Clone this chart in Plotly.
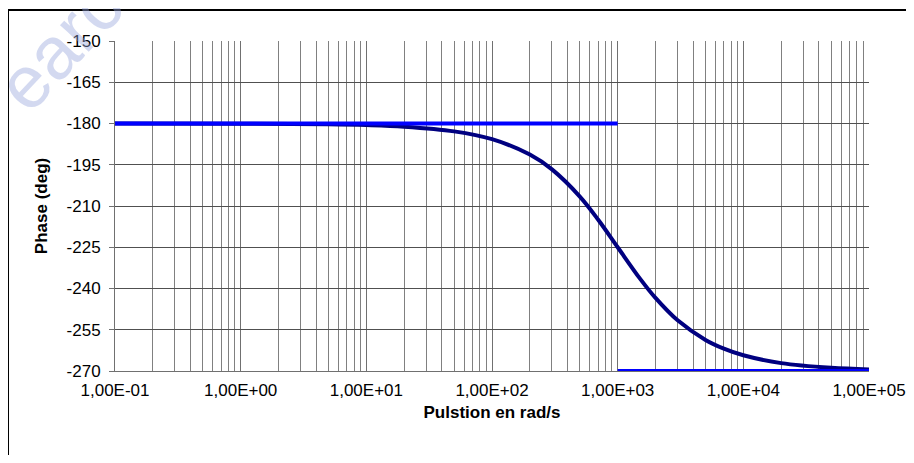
import plotly.graph_objects as go

# Data
pulsation = [0.1, 1, 5, 10, 20, 50, 100, 200, 300, 500, 700, 1000, 1500, 2000,
             3000, 5000, 7000, 10000, 20000, 50000, 100000]
phase = [-180.0, -180.06, -180.29, -180.57, -181.15, -182.86, -185.71, -191.31,
         -196.70, -206.57, -214.99, -225.0, -236.31, -243.43, -251.57, -258.69,
         -261.87, -264.29, -267.14, -268.85, -269.43]

asym_low_x = [0.1, 1000]
asym_low_y = [-180, -180]
asym_high_x = [1000, 100000]
asym_high_y = [-270, -270]

x_tickvals = [0.1, 1, 10, 100, 1000, 10000, 100000]
x_ticktext = ["1,00E-01", "1,00E+00", "1,00E+01", "1,00E+02",
              "1,00E+03", "1,00E+04", "1,00E+05"]
y_tickvals = [-150, -165, -180, -195, -210, -225, -240, -255, -270]
y_ticktext = ["-150", "-165", "-180", "-195", "-210", "-225", "-240", "-255", "-270"]

FONT = "Liberation Sans, Arial, sans-serif"

fig = go.Figure()
fig.add_trace(go.Scatter(x=pulsation, y=phase, mode="lines",
                         line=dict(color="#000080", width=4, shape="spline"),
                         showlegend=False))
fig.add_trace(go.Scatter(x=asym_low_x, y=asym_low_y, mode="lines",
                         line=dict(color="#0000FF", width=4), showlegend=False))
fig.add_trace(go.Scatter(x=asym_high_x, y=asym_high_y, mode="lines",
                         line=dict(color="#0000FF", width=4), showlegend=False))

fig.update_xaxes(type="log", range=[-1, 5], tickvals=x_tickvals, ticktext=x_ticktext,
                 automargin=False,
                 showgrid=True, gridcolor="#707070", gridwidth=1,
                 minor=dict(dtick="D1", showgrid=True, gridcolor="#808080", gridwidth=1),
                 zeroline=False, showline=True, linecolor="#707070", linewidth=1,
                 ticks="", ticklabelstandoff=4,
                 tickfont=dict(family=FONT, size=17, color="#000"),
                 title=dict(text="<b>Pulstion en rad/s</b>", standoff=6,
                            font=dict(family=FONT, size=17, color="#000")))
fig.update_yaxes(range=[-270, -150], tickvals=y_tickvals, ticktext=y_ticktext,
                 automargin=False,
                 showgrid=True, gridcolor="#505050", gridwidth=1,
                 zeroline=False, showline=True, linecolor="#707070", linewidth=1,
                 ticks="outside", ticklen=5, tickcolor="#707070", ticklabelstandoff=5,
                 tickfont=dict(family=FONT, size=17, color="#000"),
                 title=dict(text="<b>Phase (deg)</b>", standoff=14,
                            font=dict(family=FONT, size=17, color="#000")))

# outer frame (top and left edges visible)
fig.add_shape(type="line", xref="paper", yref="paper", x0=-0.1419, x1=1.2,
              y0=1.0939, y1=1.0939, line=dict(color="#000", width=2))
fig.add_shape(type="line", xref="paper", yref="paper", x0=-0.1419, x1=-0.1419,
              y0=1.0939, y1=-0.35, line=dict(color="#000", width=2))

# watermark
fig.add_annotation(text="earc", xref="paper", yref="paper", x=-0.073, y=0.985,
                   xanchor="center", yanchor="middle",
                   showarrow=False, textangle=-47,
                   font=dict(family=FONT, size=74, color="rgba(150,165,220,0.42)"))

fig.update_layout(width=898, height=447, margin=dict(l=107, r=37, t=33, b=84),
                  paper_bgcolor="white", plot_bgcolor="white")

fig.write_html("out.html")
